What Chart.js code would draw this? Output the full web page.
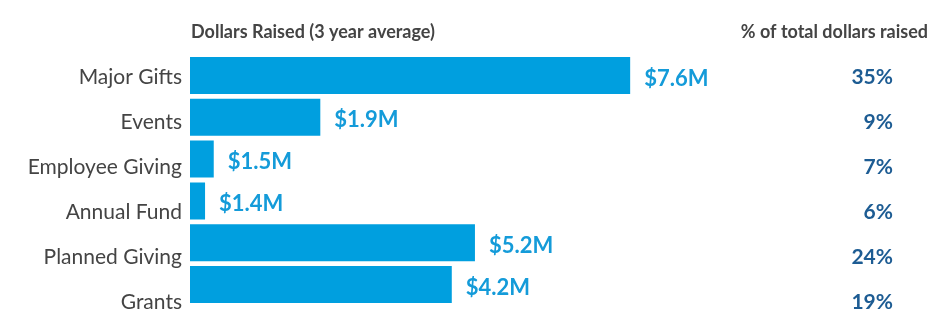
<!DOCTYPE html>
<html>
<head>
<meta charset="utf-8">
<script src="https://cdn.jsdelivr.net/npm/chart.js@4/dist/chart.umd.min.js"></script>
<style>
  html, body { margin: 0; padding: 0; background: #fff; }
  #wrap { position: relative; width: 950px; height: 330px; }
</style>
</head>
<body>
<div id="wrap"><canvas id="chart"></canvas></div>
<script>
const categories = ['Major Gifts', 'Events', 'Employee Giving', 'Annual Fund', 'Planned Giving', 'Grants'];
// bar lengths as drawn in the picture ($M, scaled so Major Gifts = 7.6)
const barLengths = [7.6, 2.25, 0.41, 0.26, 4.92, 4.52];
const dollarLabels = ['$7.6M', '$1.9M', '$1.5M', '$1.4M', '$5.2M', '$4.2M'];
const percentLabels = ['35%', '9%', '7%', '6%', '24%', '19%'];
const leftHeader = 'Dollars Raised (3 year average)';
const rightHeader = '% of total dollars raised';

const FONT = 'Lato, "Open Sans", sans-serif';
const BAR_BLUE = '#009fdf';

const labelsPlugin = {
    id: 'labelsPlugin',
    afterDatasetsDraw(chart) {
        const ctx = chart.ctx;
        const rows = chart.scales.rows;
        const meta = chart.getDatasetMeta(0);
        ctx.save();

        // headers
        ctx.fillStyle = '#444';
        ctx.font = `bold 18px ${FONT}`;
        ctx.textBaseline = 'middle';
        ctx.textAlign = 'left';
        ctx.fillText(leftHeader, chart.chartArea.left + 1, 32);
        ctx.textAlign = 'right';
        ctx.fillText(rightHeader, 928, 32);

        // dollar labels at bar ends
        ctx.fillStyle = '#149bd9';
        ctx.font = `bold 22px ${FONT}`;
        ctx.textAlign = 'left';
        meta.data.forEach((bar, i) => ctx.fillText(dollarLabels[i], bar.x + 14, bar.y + 3));

        // percentage column
        ctx.fillStyle = '#1d5c93';
        ctx.font = `bold 21px ${FONT}`;
        ctx.textAlign = 'right';
        percentLabels.forEach((p, i) => ctx.fillText(p, 893, rows.getPixelForValue(i)));

        ctx.restore();
    }
};

new Chart(document.getElementById('chart'), {
    type: 'bar',
    data: {
        labels: categories,
        datasets: [{
            data: barLengths,
            backgroundColor: BAR_BLUE,
            borderWidth: 0,
            categoryPercentage: 1,
            barPercentage: 0.885
        }]
    },
    options: {
        indexAxis: 'y',
        responsive: true,
        maintainAspectRatio: false,
        animation: false,
        layout: { padding: { top: 54.6, bottom: 24.6, left: 0, right: 65 } },
        plugins: { legend: { display: false }, tooltip: { enabled: false }, title: { display: false } },
        scales: {
            x: { display: false, min: 0, max: 12 },
            y: { display: false },
            // row positions for the category and percentage text (rows sit a bit further apart than the bars)
            rows: {
                type: 'linear',
                position: 'left',
                reverse: true,
                offset: false,
                beginAtZero: false,
                min: -0.498,
                max: 5.076,
                grid: { display: false, drawTicks: false },
                border: { display: false },
                afterBuildTicks: axis => { axis.ticks = categories.map((_, i) => ({ value: i })); },
                afterFit: axis => { axis.width = 190; },
                ticks: {
                    padding: 8,
                    color: '#444',
                    font: { family: FONT, size: 21 },
                    callback: v => categories[v]
                }
            }
        }
    },
    plugins: [labelsPlugin]
});
</script>
</body>
</html>
